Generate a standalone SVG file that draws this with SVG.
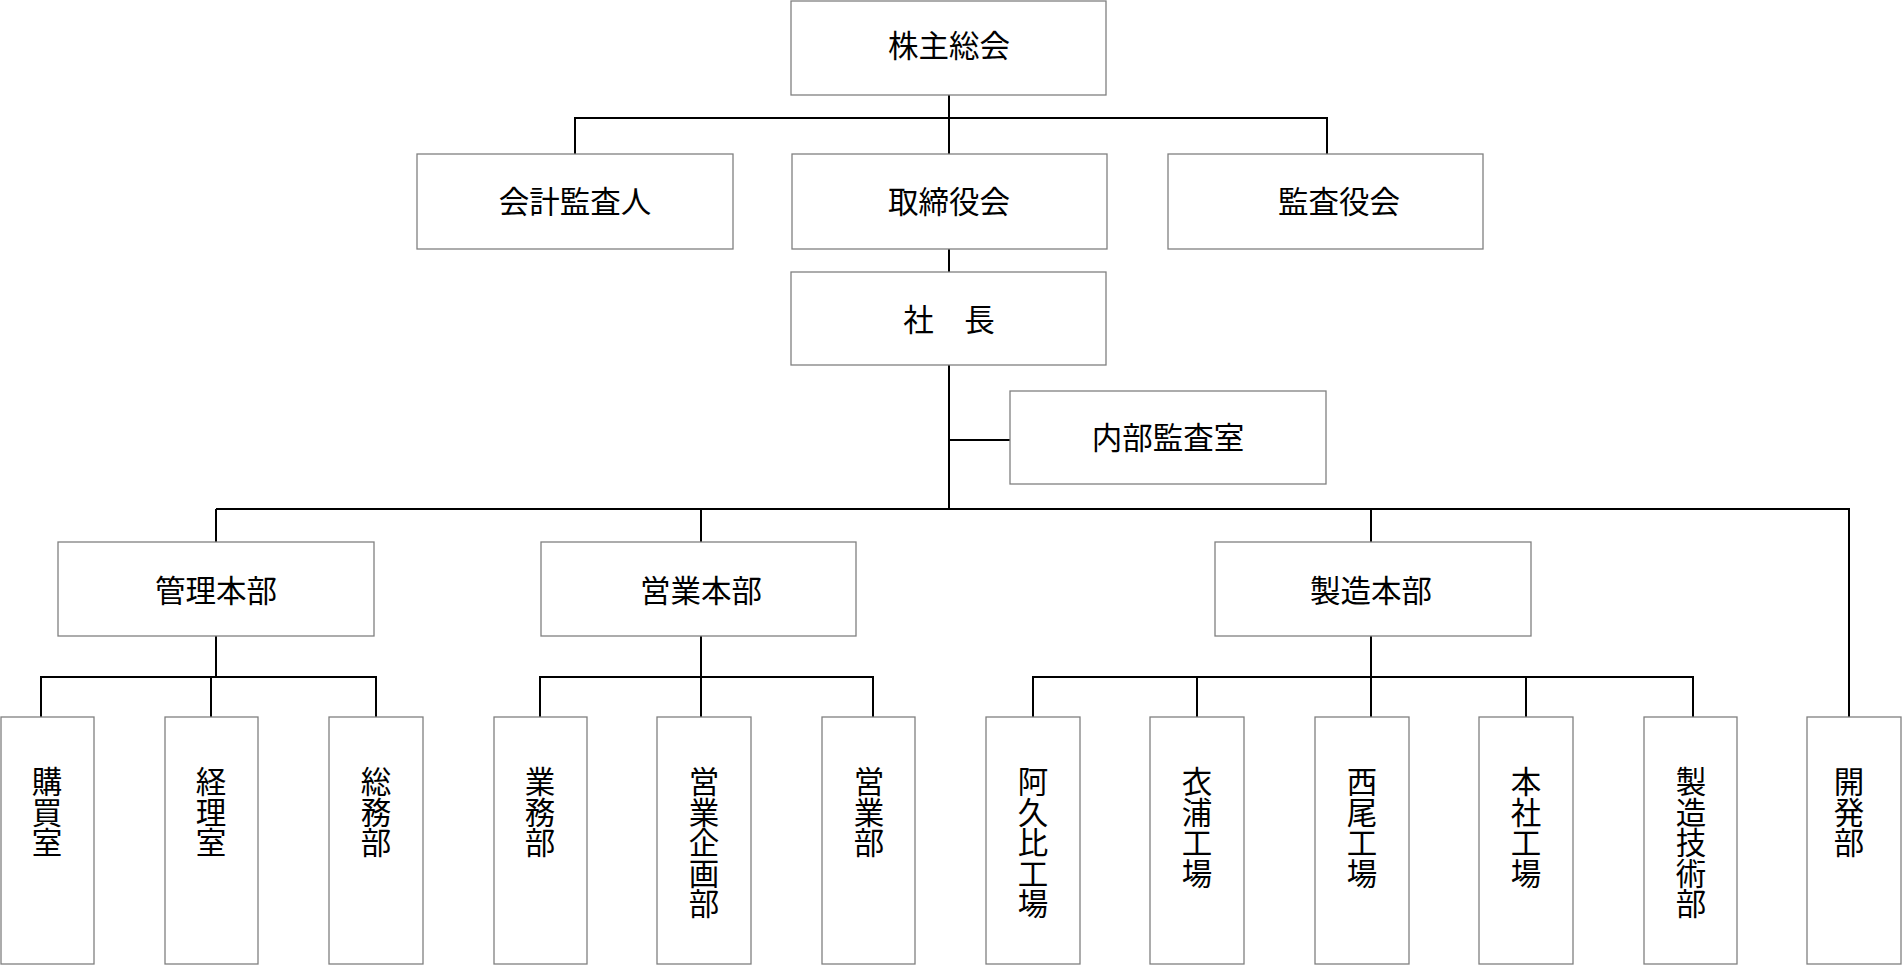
<svg xmlns="http://www.w3.org/2000/svg" width="1902" height="965" viewBox="0 0 1902 965">
<style>
.b{fill:#fff;stroke:#808080;stroke-width:1.3}
.t{font-family:"Noto Sans CJK JP",sans-serif;font-size:30.5px;fill:#000;text-anchor:middle}
.c{stroke:#000;stroke-width:2;fill:none}
</style>
<rect width="1902" height="965" fill="#fff"/>
<g id="connectors" class="c">
<path d="M949 95V118M575 154V118H1327V154M949 118V154M949 249V272M949 365V509M949 440H1010M216 509H1849V717M216 509V542M701 509V542M1371 509V542"/>
<path d="M216 636V677M41 717V677H376V717M211 677V717"/>
<path d="M701 636V677M540 717V677H873V717M701 677V717"/>
<path d="M1371 636V677M1033 717V677H1693V717M1197 677V717M1371 677V717M1526 677V717"/>
</g>
<g id="n1"><rect class="b" x="791" y="1" width="315" height="94"/><text class="t" x="949" y="57">株主総会</text></g>
<g id="n2"><rect class="b" x="417" y="154" width="316" height="95"/><text class="t" x="575" y="213">会計監査人</text></g>
<g id="n3"><rect class="b" x="792" y="154" width="315" height="95"/><text class="t" x="949" y="213">取締役会</text></g>
<g id="n4"><rect class="b" x="1168" y="154" width="315" height="95"/><text class="t" x="1339" y="213">監査役会</text></g>
<g id="n5"><rect class="b" x="791" y="272" width="315" height="93"/><text class="t" x="949" y="331">社　長</text></g>
<g id="n6"><rect class="b" x="1010" y="391" width="316" height="93"/><text class="t" x="1168" y="449">内部監査室</text></g>
<g id="n7"><rect class="b" x="58" y="542" width="316" height="94"/><text class="t" x="216" y="602">管理本部</text></g>
<g id="n8"><rect class="b" x="541" y="542" width="315" height="94"/><text class="t" x="701" y="602">営業本部</text></g>
<g id="n9"><rect class="b" x="1215" y="542" width="316" height="94"/><text class="t" x="1371" y="602">製造本部</text></g>
<g id="l1"><rect class="b" x="1" y="717" width="93" height="247"/><text class="t" y="793"><tspan x="47">購</tspan><tspan x="47" dy="30.5">買</tspan><tspan x="47" dy="30.5">室</tspan></text></g>
<g id="l2"><rect class="b" x="165" y="717" width="93" height="247"/><text class="t" y="793"><tspan x="211">経</tspan><tspan x="211" dy="30.5">理</tspan><tspan x="211" dy="30.5">室</tspan></text></g>
<g id="l3"><rect class="b" x="329" y="717" width="94" height="247"/><text class="t" y="793"><tspan x="376">総</tspan><tspan x="376" dy="30.5">務</tspan><tspan x="376" dy="30.5">部</tspan></text></g>
<g id="l4"><rect class="b" x="494" y="717" width="93" height="247"/><text class="t" y="793"><tspan x="540">業</tspan><tspan x="540" dy="30.5">務</tspan><tspan x="540" dy="30.5">部</tspan></text></g>
<g id="l5"><rect class="b" x="657" y="717" width="94" height="247"/><text class="t" y="793"><tspan x="704">営</tspan><tspan x="704" dy="30.5">業</tspan><tspan x="704" dy="30.5">企</tspan><tspan x="704" dy="30.5">画</tspan><tspan x="704" dy="30.5">部</tspan></text></g>
<g id="l6"><rect class="b" x="822" y="717" width="93" height="247"/><text class="t" y="793"><tspan x="869">営</tspan><tspan x="869" dy="30.5">業</tspan><tspan x="869" dy="30.5">部</tspan></text></g>
<g id="l7"><rect class="b" x="986" y="717" width="94" height="247"/><text class="t" y="793"><tspan x="1033">阿</tspan><tspan x="1033" dy="30.5">久</tspan><tspan x="1033" dy="30.5">比</tspan><tspan x="1033" dy="30.5">工</tspan><tspan x="1033" dy="30.5">場</tspan></text></g>
<g id="l8"><rect class="b" x="1150" y="717" width="94" height="247"/><text class="t" y="793"><tspan x="1197">衣</tspan><tspan x="1197" dy="30.5">浦</tspan><tspan x="1197" dy="30.5">工</tspan><tspan x="1197" dy="30.5">場</tspan></text></g>
<g id="l9"><rect class="b" x="1315" y="717" width="94" height="247"/><text class="t" y="793"><tspan x="1362">西</tspan><tspan x="1362" dy="30.5">尾</tspan><tspan x="1362" dy="30.5">工</tspan><tspan x="1362" dy="30.5">場</tspan></text></g>
<g id="l10"><rect class="b" x="1479" y="717" width="94" height="247"/><text class="t" y="793"><tspan x="1526">本</tspan><tspan x="1526" dy="30.5">社</tspan><tspan x="1526" dy="30.5">工</tspan><tspan x="1526" dy="30.5">場</tspan></text></g>
<g id="l11"><rect class="b" x="1644" y="717" width="93" height="247"/><text class="t" y="793"><tspan x="1691">製</tspan><tspan x="1691" dy="30.5">造</tspan><tspan x="1691" dy="30.5">技</tspan><tspan x="1691" dy="30.5">術</tspan><tspan x="1691" dy="30.5">部</tspan></text></g>
<g id="l12"><rect class="b" x="1807" y="717" width="94" height="247"/><text class="t" y="793"><tspan x="1849">開</tspan><tspan x="1849" dy="30.5">発</tspan><tspan x="1849" dy="30.5">部</tspan></text></g>
</svg>
